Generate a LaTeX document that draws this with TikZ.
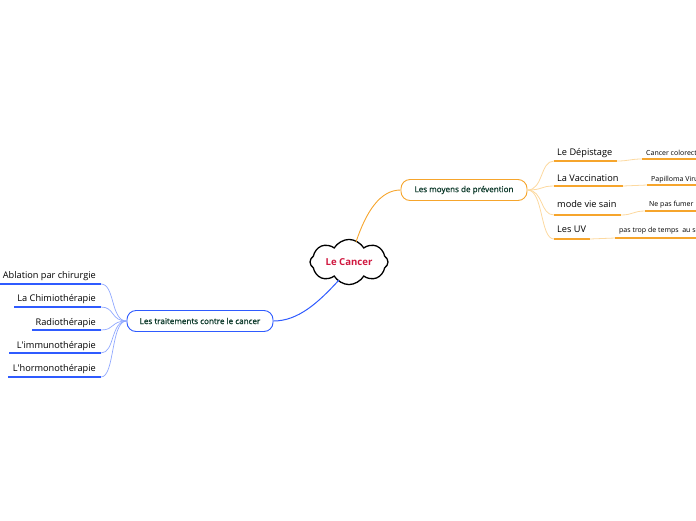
\documentclass[tikz,border=0pt]{standalone}
\usepackage{fontspec}
\setmainfont{Open Sans}
\newfontfamily\semib[FakeBold=1]{Open Sans}
\usetikzlibrary{shapes.symbols,calc}
\definecolor{org}{HTML}{F6A52C}
\definecolor{orgl}{HTML}{FCD9A0}
\definecolor{blu}{HTML}{2F5BFF}
\definecolor{blul}{HTML}{90A8FF}
\definecolor{txg}{HTML}{0E3B2C}
\definecolor{red1}{HTML}{D0173F}
\tikzset{
  mainbox/.style={draw, rounded corners=9pt, line width=0.9pt, minimum width=126pt, minimum height=21pt, inner sep=0pt, font=\semib\fontsize{8.1}{9}\selectfont, text=txg, fill=white},
  lbl/.style={font=\fontsize{9.2}{10}\selectfont, text=black, inner sep=0pt},
  sml/.style={font=\fontsize{7}{8}\selectfont, text=black, inner sep=0pt},
  ulo/.style={org, line width=1.5pt},
  ulb/.style={blu, line width=1.5pt},
  conO/.style={orgl, line width=0.8pt},
  conB/.style={blul, line width=0.7pt},
}
\begin{document}
\begin{tikzpicture}[x=1pt,y=-1pt]
\useasboundingbox (0,0) rectangle (696,520);
% central cloud
\node[cloud, cloud puffs=8, cloud puff arc=120, aspect=2, draw, line width=1.3pt, minimum width=78pt, minimum height=41pt, inner sep=0pt, font=\bfseries\fontsize{9.6}{10}\selectfont, text=red1, fill=white] (c) at (349,262) {Le Cancer};
% main boxes
\node[mainbox, draw=org] (p) at (464,190) {Les moyens de prévention};
\node[mainbox, draw=blu, minimum width=146pt] (t) at (200,321) {Les traitements contre le cancer};
\coordinate (cn) at (356,242);
\coordinate (cs) at (339,280);
\draw[org, line width=0.9pt] (cn) .. controls (366,212) and (380,190) .. (p.west);
\draw[blu, line width=1pt] (cs) .. controls (318,303) and (298,321) .. (t.east);
% right leaves
\coordinate (r1a) at (554,161); \coordinate (r1b) at (617,161);
\coordinate (r2a) at (554,186); \coordinate (r2b) at (623,186);
\coordinate (r3a) at (554,215); \coordinate (r3b) at (621,215);
\coordinate (r4a) at (554,239); \coordinate (r4b) at (590,239);
\foreach \i in {1,2,3,4}{
  \draw[conO] (p.east) .. controls +(16,0) and ($(r\i a)+(-14,0)$) .. (r\i a);
  \draw[ulo] (r\i a) -- (r\i b);
}
\node[lbl, anchor=base west] (l1) at (557,155) {Le Dépistage};
\node[lbl, anchor=base west] (l2) at (557,181) {La Vaccination};
\node[lbl, anchor=base west] (l3) at (557,207) {mode vie sain};
\node[lbl, anchor=base west] (l4) at (557,232) {Les UV};
% right sub leaves
\coordinate (s1a) at (642,159); \coordinate (s1b) at (700,159);
\coordinate (s2a) at (647,185); \coordinate (s2b) at (700,185);
\coordinate (s3a) at (645,211); \coordinate (s3b) at (700,211);
\coordinate (s4a) at (615,238); \coordinate (s4b) at (700,238);
\draw[conO] (r1b) .. controls +(12,0) and ($(s1a)+(-12,0)$) .. (s1a);
\draw[conO] (r2b) .. controls +(12,0) and ($(s2a)+(-12,0)$) .. (s2a);
\draw[conO] (r3b) .. controls +(12,0) and ($(s3a)+(-12,0)$) .. (s3a);
\draw[conO] (r4b) .. controls +(12,0) and ($(s4a)+(-12,0)$) .. (s4a);
\foreach \i in {1,2,3,4}{ \draw[ulo] (s\i a) -- (s\i b); }
\node[sml, anchor=base west] (m1) at (646,155) {Cancer colorectal};
\node[sml, anchor=base west] (m2) at (651,181) {Papilloma Virus};
\node[sml, anchor=base west] (m3) at (649,206) {Ne pas fumer};
\node[sml, anchor=base west] (m4) at (619,232) {pas trop de temps~ au soleil};
% left leaves
\coordinate (b1a) at (0,284); \coordinate (b1b) at (101,284);
\coordinate (b2a) at (14,307); \coordinate (b2b) at (101,307);
\coordinate (b3a) at (32,330); \coordinate (b3b) at (101,330);
\coordinate (b4a) at (9,353); \coordinate (b4b) at (101,353);
\coordinate (b5a) at (8,377); \coordinate (b5b) at (101,377);
\foreach \i in {1,...,5}{
  \draw[conB] (t.west) .. controls +(-16,0) and ($(b\i b)+(14,0)$) .. (b\i b);
  \draw[ulb] (b\i a) -- (b\i b);
}
\node[lbl, anchor=base east] (k1) at (96,278) {Ablation par chirurgie};
\node[lbl, anchor=base east] (k2) at (96,301) {La Chimiothérapie};
\node[lbl, anchor=base east] (k3) at (96,325) {Radiothérapie};
\node[lbl, anchor=base east] (k4) at (96,348) {L\textquotesingle immunothérapie};
\node[lbl, anchor=base east] (k5) at (96,371) {L\textquotesingle hormonothérapie};
\end{tikzpicture}
\end{document}
